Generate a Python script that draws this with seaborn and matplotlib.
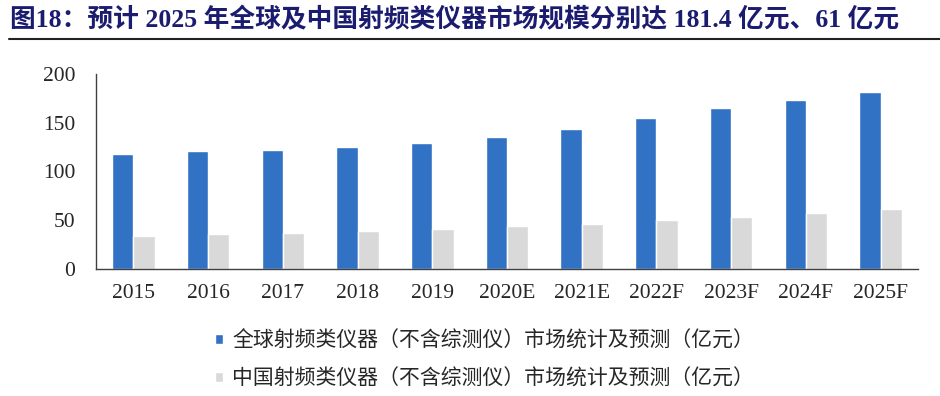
import seaborn as sns
import matplotlib.pyplot as plt
import pandas as pd
from matplotlib.lines import Line2D

# data
years = ['2015', '2016', '2017', '2018', '2019', '2020E', '2021E', '2022F', '2023F', '2024F', '2025F']
global_rf = [118.0, 120.4, 122.1, 124.5, 129.0, 135.5, 143.4, 154.7, 164.6, 172.9, 181.4]
china_rf = [34.0, 36.0, 37.0, 39.0, 40.8, 43.6, 46.0, 49.8, 53.2, 57.0, 61.0]
series_names = ['全球射频类仪器（不含综测仪）市场统计及预测（亿元）',
                '中国射频类仪器（不含综测仪）市场统计及预测（亿元）']
title = '图18：预计 2025 年全球及中国射频类仪器市场规模分别达 181.4 亿元、61 亿元'

df = pd.DataFrame({'year': years, series_names[0]: global_rf, series_names[1]: china_rf})
df_long = df.melt(id_vars='year', var_name='series', value_name='value')

sns.set_style('white')
plt.rcParams['font.family'] = ['Liberation Serif', 'Noto Sans CJK SC', 'DejaVu Sans']

fig = plt.figure(figsize=(9.4, 3.96), dpi=100)
ax = fig.add_axes([96 / 940, 1 - 268.7 / 396, 822 / 940, 194.7 / 396])

sns.barplot(data=df_long, x='year', y='value', hue='series', order=years, hue_order=series_names,
            palette=['#3172C4', '#D9D9D9'], width=0.57, saturation=1, ax=ax, legend=True)

ax.set_ylim(0, 200)
ax.set_yticks([0, 50, 100, 150, 200])
ax.set_xlim(-0.5, len(years) - 0.5)
ax.set_xlabel('')
ax.set_ylabel('')
ax.tick_params(axis='y', labelsize=15.5, length=0, pad=15)
ax.tick_params(axis='x', which='major', labelsize=15.5, length=0, pad=11)
ax.set_xticks([i - 0.5 for i in range(len(years) + 1)], minor=True)
ax.tick_params(axis='x', which='minor', direction='in', length=6, color='#333333', width=1)
for s in ['top', 'right']:
    ax.spines[s].set_visible(False)
for s in ['left', 'bottom']:
    ax.spines[s].set_color('#404040')
    ax.spines[s].set_linewidth(1)

handles, labels = ax.get_legend_handles_labels()
ax.get_legend().remove()
fig.legend(handles, labels, loc='upper left', bbox_to_anchor=(200 / 940, 1 - 315 / 396),
           frameon=False, prop={'family': ['Noto Sans CJK SC'], 'size': 15},
           handlelength=0.4, handleheight=0.4, handletextpad=0.45, labelspacing=0.75,
           borderpad=0.2)

fig.text(10 / 940, 1 - 20 / 396, title, fontsize=18.5, fontweight='bold', color='#1B1B6F',
         va='center', ha='left', family=['Liberation Serif', 'Noto Sans CJK SC'])
fig.add_artist(Line2D([9 / 940, 1.0], [1 - 39 / 396, 1 - 39 / 396], color='#222222', linewidth=1.5))

fig.savefig('out.png', dpi=100)
